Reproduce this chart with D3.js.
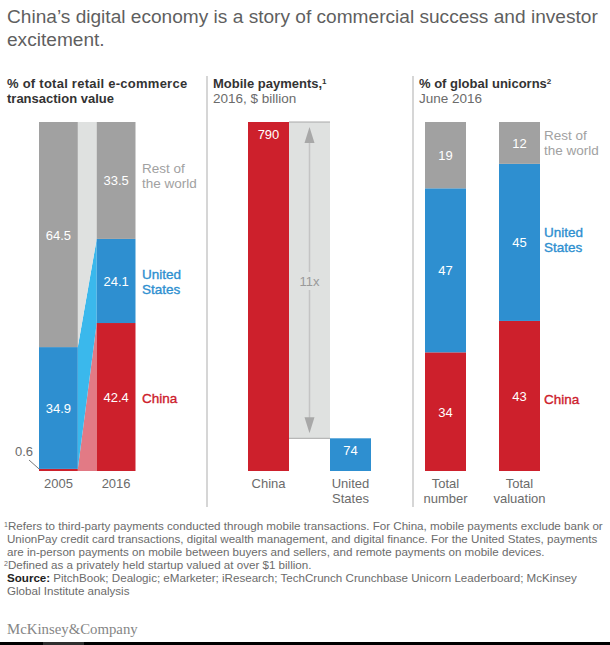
<!DOCTYPE html>
<html>
<head>
<meta charset="utf-8">
<script src="https://cdnjs.cloudflare.com/ajax/libs/d3/7.8.5/d3.min.js"></script>
<style>
  html, body { margin: 0; padding: 0; background: #fff; }
  svg { display: block; }
  text { font-family: "Liberation Sans", Arial, sans-serif; }
</style>
</head>
<body>
<div id="chart"></div>
<script>
var svgWidth = 610;
var svgHeight = 645;

// data
var segments = ["China", "United States", "Rest of the world"];
var ecomYears = ["2005", "2016"];
var ecomChina = [0.6, 42.4];
var ecomUS = [34.9, 24.1];
var ecomRest = [64.5, 33.5];

var payCountries = ["China", "United States"];
var payValues = [790, 74];

var unicornCats = ["Total number", "Total valuation"];
var unicornChina = [34, 43];
var unicornUS = [47, 45];
var unicornRest = [19, 12];

var titleLines = [
  "China\u2019s digital economy is a story of commercial success and investor",
  "excitement."
];
var noteLines = [
  "Refers to third-party payments conducted through mobile transactions. For China, mobile payments exclude bank or",
  "UnionPay credit card transactions, digital wealth management, and digital finance. For the United States, payments",
  "are in-person payments on mobile between buyers and sellers, and remote payments on mobile devices.",
  "Defined as a privately held startup valued at over $1 billion."
];

var colors = { "China": "#cd202c", "United States": "#2e8fd0", "Rest of the world": "#a1a1a1" };
var linkColors = { "China": "#e27a85", "United States": "#3ab8ec", "Rest of the world": "#dfe1e0" };
var dark = "#333";
var gray = "#6b6b6b";

var svg = d3.select("#chart").append("svg")
  .attr("width", svgWidth)
  .attr("height", svgHeight);

var plotTop = 122, plotBottom = 471;
var yPct = d3.scaleLinear().domain([0, 100]).range([plotBottom, plotTop]);
var yPay = d3.scaleLinear().domain([0, 790]).range([plotBottom, plotTop]);

function addText(x, y, str, size, fill, opts) {
  opts = opts || {};
  return svg.append("text")
    .attr("x", x)
    .attr("y", y)
    .attr("text-anchor", opts.anchor || "start")
    .attr("font-size", size)
    .attr("font-weight", opts.weight || "normal")
    .attr("fill", fill)
    .text(str);
}

// series names look medium weight in the original, so fake it with a thin stroke
function addMedium(x, y, str, fill) {
  return addText(x, y, str, 13.5, fill)
    .attr("stroke", fill)
    .attr("stroke-width", 0.35);
}

function stackRows(cats, china, us, rest) {
  var rows = cats.map(function(c, i) {
    return { cat: c, "China": china[i], "United States": us[i], "Rest of the world": rest[i] };
  });
  return d3.stack().keys(segments)(rows);
}

function drawStack(series, x) {
  series.forEach(function(s) {
    svg.selectAll(null)
      .data(s)
      .enter()
      .append("rect")
      .attr("x", d => x(d.data.cat))
      .attr("width", x.bandwidth())
      .attr("y", d => yPct(d[1]))
      .attr("height", d => yPct(d[0]) - yPct(d[1]))
      .attr("fill", colors[s.key]);
  });
}

function drawValues(series, x, fmt) {
  series.forEach(function(s) {
    svg.selectAll(null)
      .data(s.filter(d => d[1] - d[0] > 2))
      .enter()
      .append("text")
      .attr("x", d => x(d.data.cat) + x.bandwidth() / 2)
      .attr("y", d => yPct((d[0] + d[1]) / 2) + 5)
      .attr("text-anchor", "middle")
      .attr("font-size", 13)
      .attr("fill", "#fff")
      .text(d => fmt(d[1] - d[0]));
  });
}

// title
titleLines.forEach(function(t, i) {
  addText(7, 23 + i * 23, t, 19.1, "#5f5f5f");
});

// panel dividers
[207, 413].forEach(function(x) {
  svg.append("line")
    .attr("x1", x).attr("x2", x)
    .attr("y1", 76).attr("y2", 507)
    .attr("stroke", "#c9c9c9")
    .attr("stroke-width", 1.5);
});

// panel 1: e-commerce
addText(7, 88, "% of total retail e-commerce", 13, dark, { weight: "bold" })
  .attr("letter-spacing", 0.25);
addText(7, 103, "transaction value", 13, dark, { weight: "bold" });

var xEcom = d3.scaleBand().domain(ecomYears).range([39, 135.5]).paddingInner(19 / 58).paddingOuter(0);
var ecomSeries = stackRows(ecomYears, ecomChina, ecomUS, ecomRest);

var link = d3.area()
  .x(d => d.x)
  .y0(d => yPct(d.y0))
  .y1(d => yPct(d.y1));

ecomSeries.forEach(function(s) {
  var pts = [
    { x: xEcom("2005") + xEcom.bandwidth(), y0: s[0][0], y1: s[0][1] },
    { x: xEcom("2016"), y0: s[1][0], y1: s[1][1] }
  ];
  svg.append("path")
    .attr("d", link(pts))
    .attr("fill", linkColors[s.key]);
});

drawStack(ecomSeries, xEcom);
drawValues(ecomSeries, xEcom, d3.format(".1f"));

ecomYears.forEach(function(y) {
  addText(xEcom(y) + xEcom.bandwidth() / 2, 488, y, 13, gray, { anchor: "middle" });
});

// 0.6 callout
addText(24, 456, d3.format(".1f")(ecomChina[0]), 13, gray, { anchor: "middle" });
svg.append("line")
  .attr("x1", 29).attr("y1", 460)
  .attr("x2", xEcom("2005")).attr("y2", yPct(ecomChina[0]))
  .attr("stroke", "#555")
  .attr("stroke-width", 0.8);

addText(142, 173, "Rest of", 13.5, colors["Rest of the world"]);
addText(142, 188, "the world", 13.5, colors["Rest of the world"]);
addMedium(142, 279, "United", colors["United States"]);
addMedium(142, 294, "States", colors["United States"]);
addMedium(142, 403, "China", colors["China"]);

// panel 2: mobile payments
var t1 = addText(213, 88, "Mobile payments,", 13, dark, { weight: "bold" });
t1.append("tspan").attr("font-size", 8).attr("dy", -4).text("1");
addText(213, 103, "2016, $ billion", 13.5, gray);

var xPay = d3.scaleBand().domain(payCountries).range([248, 371]).paddingInner(1 / 2).paddingOuter(0);
var xChinaRight = xPay("China") + xPay.bandwidth();
var xUSLeft = xPay("United States");
var midX = (xChinaRight + xUSLeft) / 2;

// gap band between the two bars
svg.append("rect")
  .attr("x", xChinaRight)
  .attr("width", xUSLeft - xChinaRight)
  .attr("y", yPay(payValues[0]))
  .attr("height", yPay(payValues[1]) - yPay(payValues[0]))
  .attr("fill", "#dfe1e0");
payValues.forEach(function(v) {
  svg.append("line")
    .attr("x1", xChinaRight).attr("x2", xUSLeft)
    .attr("y1", yPay(v)).attr("y2", yPay(v))
    .attr("stroke", "#a8a8a8")
    .attr("stroke-width", 1);
});

svg.selectAll(null)
  .data(payCountries)
  .enter()
  .append("rect")
  .attr("x", d => xPay(d))
  .attr("width", xPay.bandwidth())
  .attr("y", (d, i) => yPay(payValues[i]))
  .attr("height", (d, i) => yPay(0) - yPay(payValues[i]))
  .attr("fill", d => colors[d]);

// 11x double arrow
var arrowTop = yPay(payValues[0]) + 5;
var arrowBottom = yPay(payValues[1]) - 5;
svg.append("line")
  .attr("x1", midX).attr("x2", midX)
  .attr("y1", arrowTop + 10).attr("y2", arrowBottom - 10)
  .attr("stroke", "#c4c4c4")
  .attr("stroke-width", 1.5);
svg.append("path")
  .attr("d", d3.line()([[midX, arrowTop], [midX + 5, arrowTop + 16], [midX - 5, arrowTop + 16]]) + "Z")
  .attr("fill", "#a8a8a8");
svg.append("path")
  .attr("d", d3.line()([[midX, arrowBottom], [midX + 5, arrowBottom - 16], [midX - 5, arrowBottom - 16]]) + "Z")
  .attr("fill", "#a8a8a8");
svg.append("rect")
  .attr("x", midX - 12).attr("y", 272)
  .attr("width", 24).attr("height", 18)
  .attr("fill", "#dfe1e0");
addText(midX, 286, "11x", 13, "#9a9a9a", { anchor: "middle" });

addText(xPay("China") + xPay.bandwidth() / 2, yPay(payValues[0]) + 17, payValues[0], 13, "#fff", { anchor: "middle" });
addText(xUSLeft + xPay.bandwidth() / 2, yPay(payValues[1]) + 17, payValues[1], 13, "#fff", { anchor: "middle" });

addText(xPay("China") + xPay.bandwidth() / 2, 488, "China", 13, gray, { anchor: "middle" });
addText(xUSLeft + xPay.bandwidth() / 2, 488, "United", 13, gray, { anchor: "middle" });
addText(xUSLeft + xPay.bandwidth() / 2, 503, "States", 13, gray, { anchor: "middle" });

// panel 3: unicorns
var t3 = addText(419, 88, "% of global unicorns", 13, dark, { weight: "bold" });
t3.append("tspan").attr("font-size", 8).attr("dy", -4).text("2");
addText(419, 103, "June 2016", 13.5, gray);

var xUni = d3.scaleBand().domain(unicornCats).range([425, 540]).paddingInner(33 / 74).paddingOuter(0);
var uniSeries = stackRows(unicornCats, unicornChina, unicornUS, unicornRest);
drawStack(uniSeries, xUni);
drawValues(uniSeries, xUni, d3.format("d"));

unicornCats.forEach(function(c) {
  var parts = c.split(" ");
  var cx = xUni(c) + xUni.bandwidth() / 2;
  addText(cx, 488, parts[0], 13, gray, { anchor: "middle" });
  addText(cx, 503, parts[1], 13, gray, { anchor: "middle" });
});

addText(544, 140, "Rest of", 13.5, colors["Rest of the world"]);
addText(544, 155, "the world", 13.5, colors["Rest of the world"]);
addMedium(544, 237, "United", colors["United States"]);
addMedium(544, 252, "States", colors["United States"]);
addMedium(544, 404, "China", colors["China"]);

// footnotes
noteLines.forEach(function(n, i) {
  var sup = i === 0 ? "1" : (i === 3 ? "2" : "");
  var t = addText(sup ? 4 : 7, 530 + i * 13, "", 11.6, gray);
  if (sup) t.append("tspan").attr("font-size", 7).attr("dy", -3).text(sup);
  t.append("tspan").attr("dy", sup ? 3 : 0).text(n);
});
var src = addText(7, 582, "Source:", 11.6, "#222", { weight: "bold" });
src.append("tspan").attr("fill", gray).attr("font-weight", "normal").attr("dx", 3)
  .text("PitchBook; Dealogic; eMarketer; iResearch; TechCrunch Crunchbase Unicorn Leaderboard; McKinsey");
addText(7, 595, "Global Institute analysis", 11.6, gray);

// logo
svg.append("text")
  .attr("x", 7).attr("y", 634)
  .attr("font-size", 14.8)
  .attr("fill", "#858585")
  .style("font-family", "'Liberation Serif', serif")
  .text("McKinsey&Company");

// dark strip along the bottom edge of the reference
svg.append("rect")
  .attr("x", 0).attr("y", 642)
  .attr("width", svgWidth).attr("height", 3)
  .attr("fill", "#000");
svg.append("rect")
  .attr("x", 43).attr("y", 642)
  .attr("width", 41).attr("height", 3)
  .attr("fill", "#2e2e2e");
</script>
</body>
</html>
